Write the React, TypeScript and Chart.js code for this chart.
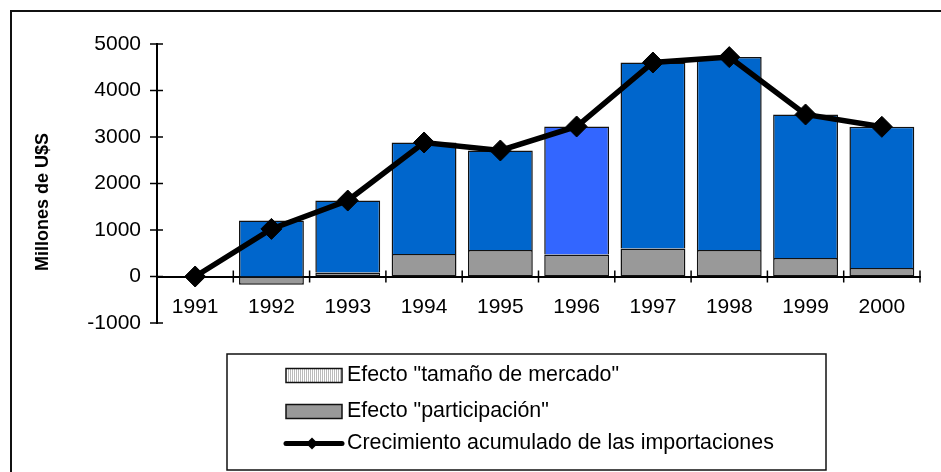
import { useEffect, useRef } from "react";
import { Chart, registerables } from "chart.js";

Chart.register(...registerables);

const FONT = "'Liberation Sans', Arial, Helvetica, sans-serif";

// Years on the category axis
const years = ["1991", "1992", "1993", "1994", "1995", "1996", "1997", "1998", "1999", "2000"];

// Decomposition of import growth (millions of US$)
const marketSizeEffect: (number | null)[] = [null, 1204, 1548, 2400, 2142, 2753, 4000, 4150, 3088, 3038];
const shareEffect: (number | null)[] = [null, -180, 86, 482, 568, 473, 602, 568, 396, 181];
const cumulativeGrowth = [0, 1024, 1634, 2882, 2710, 3226, 4602, 4718, 3484, 3219];

// Value axis
const yMin = -1000;
const yMax = 5000;
const yStep = 1000;

const labelMarket = 'Efecto "tamaño de mercado"';
const labelShare = 'Efecto "participación"';
const labelGrowth = "Crecimiento acumulado de las importaciones";
const yTitle = "Millones de U$S";

const marketColors = years.map((y) => (y === "1996" ? "#3366FF" : "#0066CC"));

const decorPlugin = {
  id: "decor",
  afterDraw(chart: any) {
    const { ctx, chartArea } = chart;
    const xs = chart.scales.x;
    const ys = chart.scales.y;
    ctx.save();

    // outer frame
    ctx.strokeStyle = "#111";
    ctx.lineWidth = 2;
    ctx.strokeRect(11, 11, chart.width + 10, chart.height + 10);

    // cross tick marks on the value axis
    ctx.strokeStyle = "#000";
    ctx.lineWidth = 1.5;
    const ax = chartArea.left;
    for (let v = yMin; v <= yMax; v += yStep) {
      const py = ys.getPixelForValue(v);
      ctx.beginPath();
      ctx.moveTo(ax - 7, py);
      ctx.lineTo(ax + 6, py);
      ctx.stroke();
    }
    // cross tick marks between categories, on the zero line
    const zy = ys.getPixelForValue(0);
    for (let i = 0; i < years.length; i++) {
      const px = xs.getPixelForValue(i + 0.5);
      ctx.beginPath();
      ctx.moveTo(px, zy - 6);
      ctx.lineTo(px, zy + 6);
      ctx.stroke();
    }

    // value axis title
    ctx.save();
    ctx.translate(43, 202);
    ctx.rotate(-Math.PI / 2);
    ctx.fillStyle = "#000";
    ctx.font = `bold 18px ${FONT}`;
    ctx.textAlign = "center";
    ctx.textBaseline = "middle";
    ctx.fillText(yTitle, 0, 0);
    ctx.restore();

    // legend box
    const lx = 227, ly = 354, lw = 599, lh = 116;
    ctx.fillStyle = "#fff";
    ctx.fillRect(lx, ly, lw, lh);
    ctx.strokeStyle = "#111";
    ctx.lineWidth = 1.5;
    ctx.strokeRect(lx, ly, lw, lh);

    const sx = 286, sw = 56, sh = 14;
    const textX = 347;
    ctx.font = `21.4px ${FONT}`;
    ctx.textAlign = "left";
    ctx.textBaseline = "middle";

    // item 1: striped swatch
    const y1 = 375.5;
    ctx.fillStyle = "#fff";
    ctx.fillRect(sx, y1 - sh / 2, sw, sh);
    ctx.strokeStyle = "#bbb";
    ctx.lineWidth = 1;
    for (let x = sx + 2; x < sx + sw - 1; x += 2) {
      ctx.beginPath();
      ctx.moveTo(x + 0.5, y1 - sh / 2);
      ctx.lineTo(x + 0.5, y1 + sh / 2);
      ctx.stroke();
    }
    ctx.strokeStyle = "#111";
    ctx.lineWidth = 1.5;
    ctx.strokeRect(sx, y1 - sh / 2, sw, sh);
    ctx.fillStyle = "#000";
    ctx.fillText(chart.data.datasets[2].label, textX, y1);

    // item 2: grey swatch
    const y2 = 411.5;
    ctx.fillStyle = "#999";
    ctx.fillRect(sx, y2 - sh / 2, sw, sh);
    ctx.strokeRect(sx, y2 - sh / 2, sw, sh);
    ctx.fillStyle = "#000";
    ctx.fillText(chart.data.datasets[1].label, textX, y2);

    // item 3: line with diamond
    const y3 = 443.5;
    ctx.strokeStyle = "#000";
    ctx.lineWidth = 5;
    ctx.lineCap = "round";
    ctx.beginPath();
    ctx.moveTo(sx, y3);
    ctx.lineTo(sx + sw, y3);
    ctx.stroke();
    const cx = sx + sw / 2 - 2;
    ctx.beginPath();
    ctx.moveTo(cx, y3 - 6);
    ctx.lineTo(cx + 6, y3);
    ctx.lineTo(cx, y3 + 6);
    ctx.lineTo(cx - 6, y3);
    ctx.closePath();
    ctx.fillStyle = "#000";
    ctx.fill();
    ctx.fillText(chart.data.datasets[0].label, textX, y3);

    ctx.restore();
  },
};

export default function App() {
  const canvasRef = useRef<HTMLCanvasElement | null>(null);

  useEffect(() => {
    const canvas = canvasRef.current;
    if (!canvas) return;
    const chart = new Chart(canvas, {
      type: "bar",
      data: {
        labels: years,
        datasets: [
          {
            type: "line",
            label: labelGrowth,
            data: cumulativeGrowth,
            order: 0,
            borderColor: "#000",
            borderWidth: 5.5,
            tension: 0,
            pointStyle: "rectRot",
            pointRadius: 10.5,
            pointBackgroundColor: "#000",
            pointBorderColor: "#000",
            pointBorderWidth: 1,
          } as any,
          {
            type: "bar",
            label: labelShare,
            data: shareEffect,
            order: 1,
            backgroundColor: "#999999",
            borderColor: "#111",
            borderWidth: 1.5,
            borderSkipped: false,
          },
          {
            type: "bar",
            label: labelMarket,
            data: marketSizeEffect,
            order: 1,
            backgroundColor: marketColors,
            borderColor: "#111",
            borderWidth: 1.5,
            borderSkipped: "start",
          },
        ],
      },
      options: {
        responsive: false,
        animation: false,
        layout: { padding: { left: 0, top: 44, right: 21, bottom: 149 } },
        plugins: {
          legend: { display: false },
          tooltip: { enabled: false },
        },
        datasets: {
          bar: { categoryPercentage: 1, barPercentage: 0.85 },
        },
        scales: {
          x: {
            type: "category",
            stacked: true,
            position: { y: 0 } as any,
            grid: { display: false, drawTicks: false },
            border: { display: true, color: "#000", width: 2 },
            ticks: {
              color: "#000",
              font: { family: FONT, size: 21 },
              padding: 18,
              autoSkip: false,
              maxRotation: 0,
              minRotation: 0,
            },
            afterFit: (s: any) => {
              s.height = 0;
            },
          },
          y: {
            type: "linear",
            stacked: true,
            min: yMin,
            max: yMax,
            grid: { display: false, drawTicks: false },
            border: { display: true, color: "#000", width: 2 },
            ticks: {
              stepSize: yStep,
              color: "#000",
              font: { family: FONT, size: 21 },
              padding: 16,
              callback: (v: any) => String(v),
            },
            afterFit: (s: any) => {
              s.width = 157;
            },
          },
        },
      },
      plugins: [decorPlugin],
    });
    return () => chart.destroy();
  }, []);

  return (
    <div style={{ position: "absolute", left: 0, top: 0, width: 941, height: 472 }}>
      <canvas ref={canvasRef} width={941} height={472} style={{ display: "block" }} />
    </div>
  );
}
